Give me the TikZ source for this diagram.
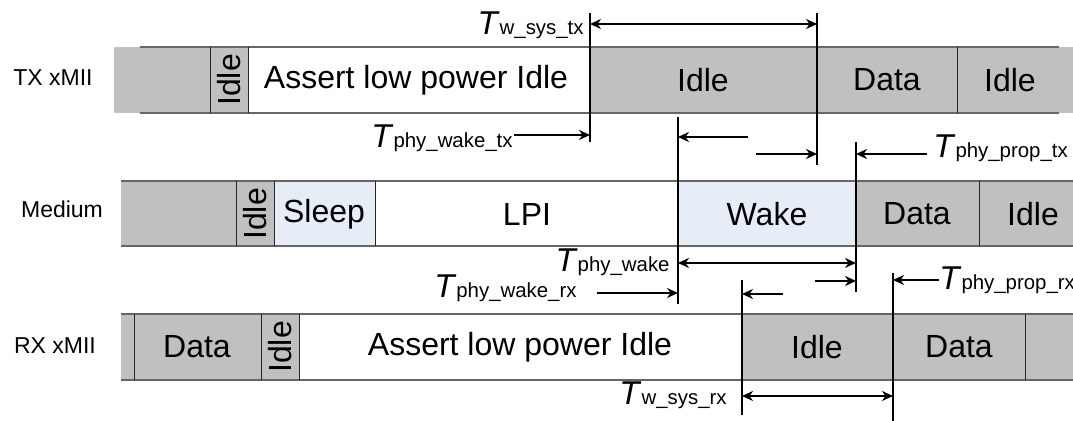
\documentclass[tikz,border=0pt]{standalone}
\usepackage{fontspec}
\setmainfont{Liberation Sans}
\usetikzlibrary{arrows.meta}

\definecolor{fillgray}{RGB}{192,192,192}
\definecolor{fillblue}{RGB}{230,237,247}
\newcommand{\tdelay}[1]{\textit{T}{\fontsize{10.2}{12}\selectfont #1}}

\begin{document}
\begin{tikzpicture}[x=0.5pt, y=-0.5pt,
        boxtext/.style={font=\fontsize{16}{18}\selectfont, inner sep=0pt},
        rowname/.style={font=\fontsize{11.5}{14}\selectfont, inner sep=0pt},
        delay/.style={font=\fontsize{16.5}{19}\selectfont, inner sep=0pt},
        rail/.style={draw=black!60, line width=0.8pt},
        sep/.style={draw=black!85, line width=0.5pt},
        marker/.style={draw=black, line width=0.6pt},
        dim/.style={line width=1pt, -{Stealth[length=5.5pt, width=5pt]}},
        dimboth/.style={line width=1pt, {Stealth[length=5.5pt, width=5pt]}-{Stealth[length=5.5pt, width=5pt]}}]
        \useasboundingbox (0,0) rectangle (1073,421);

        % TX xMII row
        \fill[fillgray] (114,47) rectangle (248,113);
        \fill[fillgray] (590,47) rectangle (1073,113);
        \draw[rail] (140,47) -- (1059,47) (140,113) -- (1059,113);
        \foreach \x in {210,248,957} {
            \draw[sep] (\x,47) -- (\x,113);
        }
        \node[rowname] (txname) at (53,78) {TX xMII};
        \node[boxtext, rotate=90] (txidle1) at (229,80) {Idle};
        \node[boxtext] (txlpi) at (416,80) {Assert low power Idle};
        \node[boxtext] (txidle2) at (703,80) {Idle};
        \node[boxtext] (txdata) at (887,80) {Data};
        \node[boxtext] (txidle3) at (1010,80) {Idle};

        % Medium row
        \fill[fillgray] (121,181) rectangle (274,246);
        \fill[fillblue] (274,181) rectangle (375,246);
        \fill[fillblue] (678,181) rectangle (856,246);
        \fill[fillgray] (856,181) rectangle (1073,246);
        \draw[rail] (121,181) -- (1073,181) (121,246) -- (1073,246);
        \foreach \x in {236,274,375,979} {
            \draw[sep] (\x,181) -- (\x,246);
        }
        \node[rowname] (mdname) at (62,209) {Medium};
        \node[boxtext, rotate=90] (mdidle1) at (255,214) {Idle};
        \node[boxtext] (mdsleep) at (324,214) {Sleep};
        \node[boxtext] (mdlpi) at (527,214) {LPI};
        \node[boxtext] (mdwake) at (767,214) {Wake};
        \node[boxtext] (mddata) at (917,214) {Data};
        \node[boxtext] (mdidle2) at (1033,214) {Idle};

        % RX xMII row
        \fill[fillgray] (121,314) rectangle (299,380);
        \fill[fillgray] (742,314) rectangle (1073,380);
        \draw[rail] (121,314) -- (1073,314) (121,380) -- (1073,380);
        \foreach \x in {134,261,299,1025} {
            \draw[sep] (\x,314) -- (\x,380);
        }
        \node[rowname] (rxname) at (55,346) {RX xMII};
        \node[boxtext] (rxdata1) at (197,347) {Data};
        \node[boxtext, rotate=90] (rxidle1) at (280,347) {Idle};
        \node[boxtext] (rxlpi) at (520,347) {Assert low power Idle};
        \node[boxtext] (rxidle2) at (817,347) {Idle};
        \node[boxtext] (rxdata2) at (959,347) {Data};

        % Time markers
        \draw[marker] (590,13) -- (590,142);
        \draw[marker] (817,13) -- (817,165);
        \draw[marker] (678,117) -- (678,304);
        \draw[marker] (856,142) -- (856,292);
        \draw[marker] (742,280) -- (742,415);
        \draw[marker] (893,273) -- (893,421);

        % Delay arrows
        \coordinate (wtxL) at (590,24);
        \coordinate (wtxR) at (817,24);
        \draw[dimboth] (wtxL) -- (wtxR);
        \node[delay, anchor=base east] (wtx) at (584,35) {\tdelay{w\_sys\_tx}};

        \coordinate (pwtxL) at (514,135);
        \coordinate (pwtxR) at (590,135);
        \draw[dim] (pwtxL) -- (pwtxR);
        \node[delay, anchor=base east] (pwtx) at (513,148) {\tdelay{phy\_wake\_tx}};

        \coordinate (gapaL) at (748,137);
        \coordinate (gapaR) at (678,137);
        \draw[dim] (gapaL) -- (gapaR);
        \coordinate (gapbL) at (756,154);
        \coordinate (gapbR) at (817,154);
        \draw[dim] (gapbL) -- (gapbR);

        \coordinate (pptxL) at (927,154);
        \coordinate (pptxR) at (856,154);
        \draw[dim] (pptxL) -- (pptxR);
        \node[delay, anchor=base west] (pptx) at (933,158) {\tdelay{phy\_prop\_tx}};

        \coordinate (pwL) at (678,263);
        \coordinate (pwR) at (856,263);
        \draw[dimboth] (pwL) -- (pwR);
        \node[delay, anchor=base east] (pw) at (670,272) {\tdelay{phy\_wake}};

        \coordinate (pwrxL) at (597,293);
        \coordinate (pwrxR) at (678,293);
        \draw[dim] (pwrxL) -- (pwrxR);
        \node[delay, anchor=base east] (pwrx) at (577,298) {\tdelay{phy\_wake\_rx}};

        \coordinate (gapcL) at (783,294);
        \coordinate (gapcR) at (742,294);
        \draw[dim] (gapcL) -- (gapcR);
        \coordinate (gapdL) at (815,281);
        \coordinate (gapdR) at (856,281);
        \draw[dim] (gapdL) -- (gapdR);

        \coordinate (pprxL) at (939,280);
        \coordinate (pprxR) at (893,280);
        \draw[dim] (pprxL) -- (pprxR);
        \node[delay, anchor=base west] (pprx) at (939,290) {\tdelay{phy\_prop\_rx}};

        \coordinate (wrxL) at (742,396);
        \coordinate (wrxR) at (893,396);
        \draw[dimboth] (wrxL) -- (wrxR);
        \node[delay, anchor=base east] (wrx) at (727,405) {\tdelay{w\_sys\_rx}};
    \end{tikzpicture}
\end{document}
